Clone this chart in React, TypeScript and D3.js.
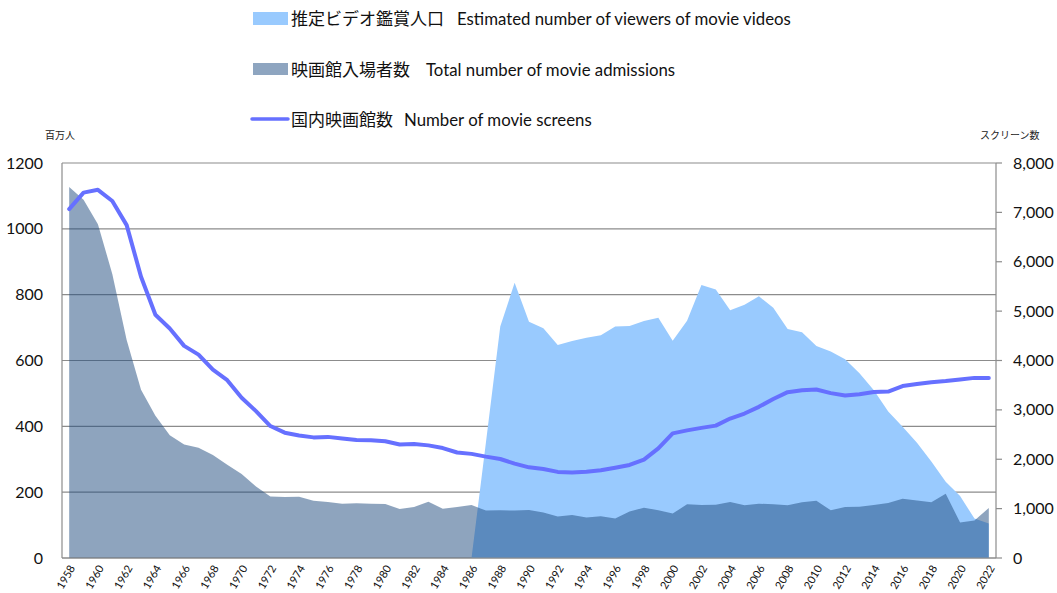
import React from "react";
import * as d3 from "d3";

const years = d3.range(1958, 2023);

// 映画館入場者数 (百万人)
const admissions = [
  1127, 1088, 1014, 863, 662, 511, 432, 373, 345, 335, 313, 283, 255, 217, 187, 185, 186, 174, 170, 165,
  166, 165, 164, 149, 155, 171, 150, 155, 161, 144, 145, 144, 146, 138, 126, 131, 123, 127, 120, 141,
  153, 145, 135, 163, 161, 162, 170, 160, 165, 163, 160, 169, 174, 145, 155, 156, 161, 167, 180, 175,
  169, 195, 108, 114, 152,
];

// 推定ビデオ鑑賞人口 (百万人), 1986-2022
const videoYears = d3.range(1986, 2023);
const viewers = [
  0, 350, 703, 836, 718, 698, 647, 659, 669, 677, 703, 705, 720, 730, 660, 721, 829, 816, 753, 769,
  795, 760, 696, 686, 644, 627, 604, 561, 510, 445, 399, 350, 293, 232, 188, 120, 105,
];

// 国内映画館数 (スクリーン数)
const screens = [
  7067, 7400, 7457, 7231, 6742, 5696, 4927, 4649, 4296, 4119, 3814, 3602, 3246, 2974, 2673, 2538,
  2481, 2443, 2453, 2420, 2392, 2383, 2364, 2298, 2311, 2281, 2227, 2137, 2109, 2053, 2005, 1912,
  1836, 1804, 1744, 1734, 1747, 1776, 1828, 1884, 1993, 2221, 2524, 2585, 2635, 2681, 2825, 2926,
  3062, 3221, 3359, 3396, 3412, 3339, 3290, 3318, 3364, 3372, 3483, 3525, 3561, 3583, 3616, 3648,
  3645,
];

const leftTicks = [0, 200, 400, 600, 800, 1000, 1200];
const rightTicks = [0, 1000, 2000, 3000, 4000, 5000, 6000, 7000, 8000];
const xLabels = years.filter((y) => (y - 1958) % 2 === 0);

const W = 1057;
const H = 593;
const left = 62;
const right = 996;
const top = 163;
const bottom = 558;

const enFont = "Lato, 'Open Sans', sans-serif";
const jaFont = "'Noto Sans CJK JP', sans-serif";

export default function App() {
  const x = d3.scaleBand<number>().domain(years).range([left, right]).padding(0);
  const cx = (y: number) => (x(y) as number) + x.bandwidth() / 2;
  const yL = d3.scaleLinear().domain([0, 1200]).range([bottom, top]);
  const yR = d3.scaleLinear().domain([0, 8000]).range([bottom, top]);

  const area = d3
    .area<[number, number]>()
    .x((d) => cx(d[0]))
    .y0(bottom)
    .y1((d) => yL(d[1]));

  const viewerPath = area(videoYears.map((y, i) => [y, viewers[i]]));
  const admPath = area(years.map((y, i) => [y, admissions[i]]));
  const screenPath = d3
    .line<[number, number]>()
    .x((d) => cx(d[0]))
    .y((d) => yR(d[1]))(years.map((y, i) => [y, screens[i]]));

  return (
    <svg width={W} height={H} style={{ position: "absolute", left: 0, top: 0, background: "#fff" }}>
      {/* legend */}
      <g>
        <rect x={253} y={12} width={35} height={13} fill="#99CAFE" />
        <text x={291} y={25} fontFamily={jaFont} fontSize={17} fill="#111">推定ビデオ鑑賞人口</text>
        <text x={457} y={25} fontFamily={enFont} fontSize={16.8} fill="#111">Estimated number of viewers of movie videos</text>

        <rect x={253} y={63} width={35} height={12} fill="#8EA5C0" />
        <text x={291} y={76} fontFamily={jaFont} fontSize={17} fill="#111">映画館入場者数</text>
        <text x={426} y={76} fontFamily={enFont} fontSize={16.8} fill="#111">Total number of movie admissions</text>

        <line x1={252} x2={288} y1={119} y2={119} stroke="#6670FF" strokeWidth={3.5} strokeLinecap="round" />
        <text x={291} y={126} fontFamily={jaFont} fontSize={17} fill="#111">国内映画館数</text>
        <text x={404} y={126} fontFamily={enFont} fontSize={16.8} fill="#111">Number of movie screens</text>
      </g>

      {/* unit labels */}
      <text x={45} y={139} fontFamily={jaFont} fontSize={10} fill="#222">百万人</text>
      <text x={980} y={139} fontFamily={jaFont} fontSize={10} fill="#222">スクリーン数</text>

      {/* gridlines */}
      {leftTicks.map((t) => (
        <line key={t} x1={left} x2={right} y1={yL(t)} y2={yL(t)} stroke="#8c8c8c" strokeWidth={1.2} />
      ))}

      <path d={viewerPath || ""} fill="#99CAFE" />
      <path d={admPath || ""} fill="#1D497D" fillOpacity={0.5} />

      {/* axes */}
      <line x1={left} x2={left} y1={top} y2={bottom} stroke="#8c8c8c" strokeWidth={1.2} />
      <line x1={right} x2={right} y1={top} y2={bottom} stroke="#8c8c8c" strokeWidth={1.2} />
      <line x1={left} x2={right} y1={bottom} y2={bottom} stroke="#8c8c8c" strokeWidth={1.2} />

      {leftTicks.map((t) => (
        <text key={t} x={43} y={yL(t)} dy="0.35em" textAnchor="end" fontFamily={enFont} fontSize={16} fill="#111">
          {t}
        </text>
      ))}
      {rightTicks.map((t) => (
        <g key={t}>
          <line x1={right} x2={right + 6} y1={yR(t)} y2={yR(t)} stroke="#8c8c8c" strokeWidth={1.2} />
          <text x={1013} y={yR(t)} dy="0.35em" fontFamily={enFont} fontSize={16} fill="#111">
            {d3.format(",")(t)}
          </text>
        </g>
      ))}

      {xLabels.map((y) => (
        <text
          key={y}
          transform={`translate(${cx(y) + 3},${bottom + 8}) rotate(-60)`}
          textAnchor="end"
          dy="0.35em"
          fontFamily={enFont}
          fontSize={11}
          fill="#111"
        >
          {y}
        </text>
      ))}

      <path d={screenPath || ""} fill="none" stroke="#6670FF" strokeWidth={4} strokeLinejoin="round" strokeLinecap="round" />
    </svg>
  );
}
